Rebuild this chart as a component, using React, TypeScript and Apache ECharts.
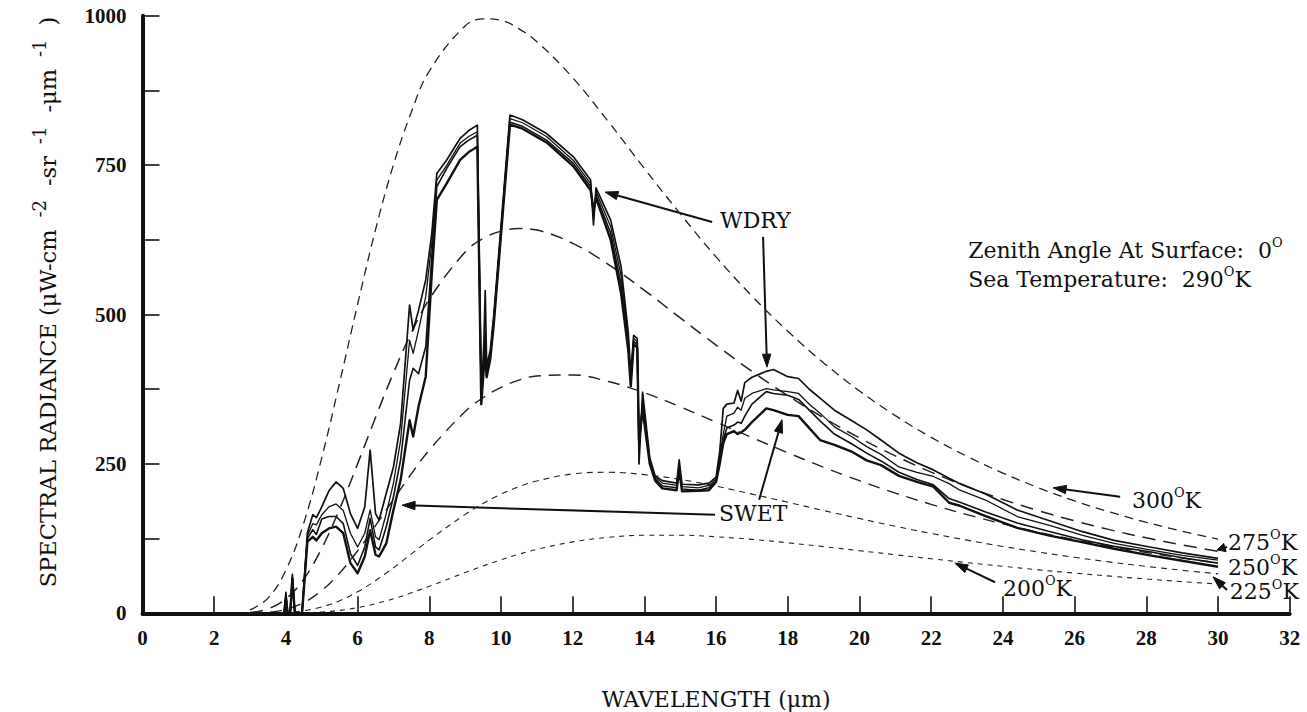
import React, { useEffect, useRef } from "react";
import * as echarts from "echarts";

// ---------- data ----------
const xTickValues = [0, 2, 4, 6, 8, 10, 12, 14, 16, 18, 20, 22, 24, 26, 28, 30, 32];
const yTickValues = [0, 250, 500, 750, 1000];

// blackbody reference curves (wavelength in µm)
const bbWavelengths = [3, 3.5, 4, 4.5, 5, 5.5, 6, 6.5, 7, 7.5, 8, 9, 9.5, 10, 10.5, 11, 12, 13, 14, 15, 16, 17, 18, 19, 20, 21, 22, 23, 24, 25, 26, 27, 28, 29, 30];
const bb300 = [5.6, 25.4, 72.2, 151.4, 260.1, 386.4, 517, 642, 750.7, 839, 907.5, 983, 995, 992.5, 978.2, 956.7, 896.3, 822.5, 744.4, 668.5, 596.5, 530.9, 472.1, 419, 372.2, 330.8, 294.5, 262.7, 234.7, 209.9, 188.1, 169.2, 152.3, 137.4, 124.2];
const bb275 = [1.3, 7.3, 24.2, 57.4, 108.8, 174.9, 250.1, 327.8, 402.4, 469.5, 525.7, 604.6, 627.2, 639.6, 644, 641.4, 619.2, 583.6, 540.5, 494.5, 448.8, 405, 364.3, 327.2, 293.5, 263.4, 236.3, 212, 190.6, 171.6, 154.7, 139.6, 126.3, 114.5, 103.8];
const bb250 = [0.2, 1.6, 6.6, 18, 38.2, 67.6, 104.5, 146.6, 190.6, 233.5, 273.3, 337.6, 360.8, 378.3, 390.3, 397.2, 398.9, 387.9, 369.1, 345.5, 319.9, 294.1, 268.7, 244.4, 221.9, 201.2, 182.3, 165.1, 149.6, 135.6, 123.1, 111.9, 101.7, 92.6, 84.4];
const bb225 = [0, 0.3, 1.3, 4.4, 10.6, 21.1, 35.9, 54.8, 76.3, 99.4, 122.7, 165.5, 183.8, 199.2, 211.9, 221.4, 233.3, 236, 232.1, 224.1, 212.7, 199.5, 185.9, 172, 158.6, 145.7, 133.6, 122.4, 111.9, 102.4, 93.7, 85.7, 78.5, 72, 66];
const bb200 = [0, 0, 0.2, 0.7, 2.2, 4.9, 9.5, 16, 24.3, 34.3, 45.2, 68.1, 79.2, 89.5, 98.9, 107, 119.5, 127.2, 130.6, 130.7, 128.1, 123.7, 118, 111.6, 104.8, 98, 91.3, 84.8, 78.6, 72.7, 67.2, 62.2, 57.4, 53, 49];

// computed spectra (four model atmospheres)
const measWavelengths = [
  3.0, 3.95, 4.0, 4.05, 4.12, 4.18, 4.25, 4.45, 4.6, 4.75,
  4.85, 5.0, 5.2, 5.4, 5.6, 5.8, 6.0, 6.2, 6.35, 6.5,
  6.6, 6.8, 7.0, 7.2, 7.45, 7.55, 7.7, 7.9, 8.07, 8.21,
  8.49, 8.86, 9.1, 9.34, 9.45, 9.52, 9.56, 9.6, 9.7, 9.8,
  10.25, 10.6, 11.27, 12.02, 12.5, 12.58, 12.65, 13.06, 13.35, 13.55,
  13.62, 13.7, 13.8, 13.85, 13.95, 14.15, 14.3, 14.5, 14.9, 14.97,
  15.05, 15.5, 15.8, 16.0, 16.1, 16.2, 16.3, 16.5, 16.6, 16.7,
  16.8, 17.0, 17.4, 17.6, 18.0, 18.3, 18.6, 18.9, 19.3, 19.8,
  20.2, 20.6, 21.1, 21.6, 22.06, 22.5, 22.8, 23.5, 24.4, 25.3,
  26.2, 27.1, 28.1, 29.0, 30.0,
];
const wdry = [
  0, 0, 35, 0, 0, 65, 0, 0, 135, 165,
  160, 178, 205, 220, 209, 167, 142, 178, 273, 167,
  156, 201, 245, 318, 516, 474, 507, 558, 636, 736,
  759, 795, 808, 817, 360, 450, 540, 415, 440, 500,
  834, 826, 803, 764, 725, 650, 712, 658, 580, 470,
  400, 465, 460, 250, 370, 260, 230, 222, 218, 257,
  216, 215, 218, 228, 270, 343, 350, 352, 373, 355,
  386, 395, 405, 408, 396, 393, 375, 360, 340, 322,
  307, 290, 268, 252, 240, 226, 217, 200, 173, 155,
  137, 122, 111, 101, 92,
];
const modelB = [
  0, 0, 30, 0, 0, 62, 0, 0, 130, 150,
  148, 165, 178, 183, 172, 134, 111, 134, 173, 128,
  123, 167, 218, 290, 457, 435, 474, 530, 619, 725,
  750, 787, 798, 806, 360, 430, 470, 410, 435, 495,
  828, 821, 798, 758, 719, 660, 706, 647, 565, 460,
  390, 460, 455, 270, 360, 257, 228, 218, 214, 250,
  212, 210, 214, 225, 262, 300, 330, 335, 345, 340,
  360, 368, 376, 374, 371, 368, 350, 335, 312, 295,
  279, 266, 245, 236, 229, 217, 206, 190, 162, 147,
  131, 117, 106, 97, 89,
];
const modelC = [
  0, 0, 28, 0, 0, 60, 0, 0, 125, 140,
  132, 158, 162, 162, 150, 100, 80, 111, 159, 111,
  106, 145, 195, 257, 390, 410, 401, 446, 597, 714,
  745, 781, 792, 800, 355, 420, 450, 400, 430, 490,
  822, 815, 792, 753, 714, 668, 700, 636, 550, 450,
  385, 455, 450, 280, 350, 255, 225, 213, 210, 245,
  208, 206, 210, 222, 255, 290, 310, 315, 320, 318,
  330, 350, 371, 368, 365, 358, 340, 322, 300, 283,
  268, 255, 236, 224, 215, 192, 186, 170, 151, 137,
  123, 112, 103, 93, 84,
];
const swet = [
  0, 0, 25, 0, 0, 58, 0, 0, 120, 128,
  122, 134, 142, 145, 134, 84, 67, 95, 139, 98,
  95, 117, 173, 223, 323, 296, 346, 396, 569, 692,
  720, 759, 772, 781, 350, 410, 430, 395, 425, 485,
  818, 811, 788, 748, 708, 675, 695, 625, 535, 440,
  380, 450, 445, 290, 340, 250, 222, 209, 206, 240,
  204, 205, 206, 220, 250, 285, 300, 305, 300, 303,
  307, 320, 343, 340, 332, 330, 310, 290, 282, 270,
  256, 248, 230, 220, 212, 185, 180, 163, 143, 130,
  119, 108, 97, 88, 78,
];

// annotations, anchored in data coordinates [µm, radiance]
const textLabels = [
  { text: "{n|WDRY}", at: [16.11, 658] },
  { text: "{n|SWET}", at: [16.08, 167] },
  { text: "{n|Zenith Angle At Surface:  0}{s|O}", at: [23.03, 608] },
  { text: "{n|Sea Temperature:  290}{s|O}{n|K}", at: [23.03, 559] },
  { text: "{n|300}{s|O}{n|K}", at: [27.6, 189] },
  { text: "{n|275}{s|O}{n|K}", at: [30.28, 119] },
  { text: "{n|250}{s|O}{n|K}", at: [30.28, 77] },
  { text: "{n|225}{s|O}{n|K}", at: [30.33, 36] },
  { text: "{n|200}{s|O}{n|K}", at: [24.0, 42] },
];
const arrowTails = [[15.89, 655], [17.31, 630], [15.97, 165], [17.2, 190], [27.27, 195], [30.25, 111], [30.25, 39], [23.78, 52]];
const arrowTips = [[12.9, 705], [17.42, 412], [7.24, 181], [17.84, 324], [25.4, 210], [29.97, 106], [29.86, 61], [22.66, 84]];

export default function App() {
  const ref = useRef<HTMLDivElement>(null);

  useEffect(() => {
    const el = ref.current!;
    const chart = echarts.init(el, null, { renderer: "svg" });
    const serif = "DejaVu Serif";
    const tickFont = "Liberation Serif";
    const ink = "#111";
    const zip = (xs: number[], ys: number[]) => xs.map((x, i) => [x, ys[i]]);

    const bbDefs = [
      { name: "300°K", values: bb300, dash: [9, 6], width: 1.3 },
      { name: "275°K", values: bb275, dash: [13, 8], width: 1.5 },
      { name: "250°K", values: bb250, dash: [12, 8], width: 1.4 },
      { name: "225°K", values: bb225, dash: [6, 5], width: 1.1 },
      { name: "200°K", values: bb200, dash: [5, 5], width: 1.1 },
    ];
    const measDefs = [
      { name: "WDRY", values: wdry, width: 1.7 },
      { name: "Model B", values: modelB, width: 1.3 },
      { name: "Model C", values: modelC, width: 1.6 },
      { name: "SWET", values: swet, width: 2.4 },
    ];

    const series: any[] = [
      ...bbDefs.map((d) => ({
        type: "line",
        name: d.name,
        data: zip(bbWavelengths, d.values),
        showSymbol: false,
        smooth: 0.4,
        silent: true,
        z: 2,
        lineStyle: { color: "#222", width: d.width, type: d.dash },
      })),
      ...measDefs.map((d) => ({
        type: "line",
        name: d.name,
        data: zip(measWavelengths, d.values),
        showSymbol: false,
        smooth: false,
        silent: true,
        z: 3,
        lineStyle: { color: ink, width: d.width, join: "round" },
      })),
    ];

    chart.setOption({
      animation: false,
      backgroundColor: "#ffffff",
      grid: { left: 142.5, right: 17.3, top: 15.8, bottom: 98.7, containLabel: false },
      xAxis: {
        type: "value",
        min: xTickValues[0],
        max: xTickValues[xTickValues.length - 1],
        interval: 2,
        axisLine: { show: true, lineStyle: { color: ink, width: 4 } },
        axisTick: { show: true, inside: true, length: 17, lineStyle: { color: ink, width: 1.6 } },
        axisLabel: { color: ink, fontFamily: tickFont, fontWeight: "bold", fontSize: 21, margin: 14, formatter: (v: number) => String(v) },
        splitLine: { show: false },
      },
      yAxis: {
        type: "value",
        min: yTickValues[0],
        max: yTickValues[yTickValues.length - 1],
        interval: 250,
        axisLine: { show: true, lineStyle: { color: ink, width: 4 } },
        axisTick: { show: true, inside: true, length: 17, lineStyle: { color: ink, width: 1.6 } },
        minorTick: { show: true, splitNumber: 2, length: 17, lineStyle: { color: ink, width: 1.6 } },
        axisLabel: { color: ink, fontFamily: tickFont, fontWeight: "bold", fontSize: 21, margin: 16, formatter: (v: number) => String(v) },
        splitLine: { show: false },
      },
      series,
    });

    const px = (p: number[]) => chart.convertToPixel({ gridIndex: 0 }, p) as number[];
    const rich = {
      n: { fontFamily: serif, fontSize: 22, lineHeight: 28, fill: ink },
      s: { fontFamily: serif, fontSize: 13, lineHeight: 15, verticalAlign: "top", fill: ink },
    };
    const graphics: any[] = [];

    textLabels.forEach((t) => {
      const [x, y] = px(t.at);
      graphics.push({
        type: "text",
        x,
        y,
        silent: true,
        style: { text: t.text, rich, textAlign: "left", textVerticalAlign: "middle", fill: ink },
      });
    });

    arrowTails.forEach((tail, i) => {
      const [x1, y1] = px(tail);
      const [x2, y2] = px(arrowTips[i]);
      const dx = x2 - x1;
      const dy = y2 - y1;
      const len = Math.hypot(dx, dy) || 1;
      const ux = dx / len;
      const uy = dy / len;
      const head = Math.min(13, len * 0.8);
      const w = 4.2;
      const bx = x2 - ux * head;
      const by = y2 - uy * head;
      graphics.push({
        type: "line",
        silent: true,
        shape: { x1, y1, x2: bx, y2: by },
        style: { stroke: ink, lineWidth: 2 },
      });
      graphics.push({
        type: "polygon",
        silent: true,
        shape: { points: [[x2, y2], [bx - uy * w, by + ux * w], [bx + uy * w, by - ux * w]] },
        style: { fill: ink, stroke: ink, lineWidth: 1 },
      });
    });

    // axis titles
    const [xMidLeft] = px([xTickValues[0], 0]);
    const [xMidRight] = px([xTickValues[xTickValues.length - 1], 0]);
    graphics.push({
      type: "text",
      x: (xMidLeft + xMidRight) / 2,
      y: 699,
      silent: true,
      style: {
        text: "WAVELENGTH (μm)",
        fontFamily: serif,
        fontSize: 22,
        fill: ink,
        textAlign: "center",
        textVerticalAlign: "middle",
      },
    });
    graphics.push({
      type: "text",
      x: 48,
      y: 302,
      rotation: Math.PI / 2,
      silent: true,
      style: {
        text: "{n|SPECTRAL RADIANCE (μW-cm}{t|-2}{n|-sr}{t|-1}{n|-μm}{t|-1}{n|)}",
        rich: {
          n: { fontFamily: serif, fontSize: 22.5, lineHeight: 36, fill: ink },
          t: { fontFamily: serif, fontSize: 18, lineHeight: 18, verticalAlign: "top", fill: ink, padding: [0, 14, 0, 12] },
        },
        textAlign: "center",
        textVerticalAlign: "middle",
        fill: ink,
      },
    });

    chart.setOption({ graphic: graphics });

    return () => chart.dispose();
  }, []);

  return (
    <div
      ref={ref}
      style={{ position: "fixed", left: 0, top: 0, width: 1307, height: 712, background: "#ffffff" }}
    />
  );
}
